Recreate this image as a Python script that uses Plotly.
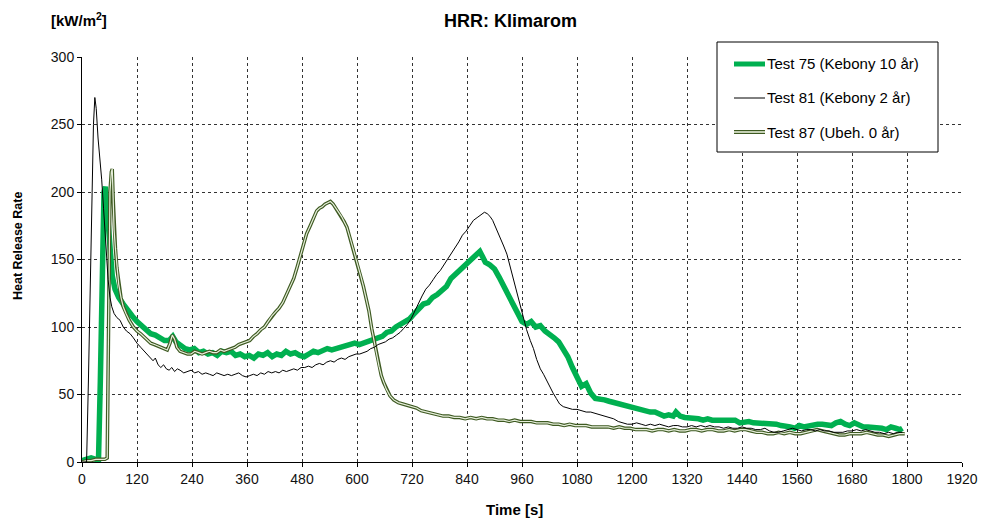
import plotly.graph_objects as go

# ---------------- data ----------------
t75 = [0, 10, 20, 30, 36, 40, 44, 48, 51, 54, 58, 62, 66, 72, 80, 90, 100, 110, 120, 130, 140, 150, 160, 170, 180, 190, 198, 205, 215, 225, 235, 245, 255, 265, 275, 285, 295, 305, 315, 325, 335, 345, 355, 365, 375, 385, 395, 405, 415, 425, 435, 445, 455, 465, 475, 485, 495, 505, 515, 525, 535, 545, 555, 565, 575, 585, 595, 605, 615, 625, 635, 645, 655, 665, 675, 685, 695, 705, 715, 725, 735, 745, 755, 765, 775, 785, 795, 805, 815, 825, 835, 845, 855, 862, 868, 874, 880, 890, 900, 910, 920, 930, 940, 950, 960, 970, 980, 990, 1000, 1010, 1020, 1030, 1040, 1050, 1060, 1070, 1080, 1090, 1100, 1110, 1120, 1130, 1140, 1150, 1160, 1170, 1180, 1190, 1200, 1210, 1220, 1230, 1240, 1250, 1260, 1270, 1280, 1290, 1296, 1305, 1315, 1325, 1335, 1345, 1355, 1365, 1375, 1385, 1395, 1405, 1415, 1425, 1435, 1445, 1455, 1465, 1475, 1485, 1495, 1505, 1515, 1525, 1535, 1545, 1555, 1565, 1575, 1585, 1595, 1605, 1615, 1625, 1635, 1645, 1655, 1665, 1675, 1685, 1695, 1705, 1715, 1725, 1735, 1745, 1755, 1765, 1775, 1785, 1790]
hrr75 = [1, 2, 3, 2, 2, 60, 160, 200, 204, 188, 168, 150, 138, 128, 122, 117, 112, 108, 104, 101, 99, 95, 94, 92, 90, 90, 93, 89, 86, 84, 83, 84, 81, 82, 80, 81, 79, 82, 81, 82, 79, 80, 78, 79, 77, 80, 79, 81, 78, 80, 79, 82, 80, 81, 79, 78, 80, 82, 81, 83, 84, 83, 84, 85, 86, 86, 88, 87, 88, 89, 90, 92, 93, 96, 97, 100, 102, 104, 106, 110, 113, 117, 118, 122, 124, 127, 130, 136, 139, 143, 146, 149, 151, 154, 156, 152, 148, 146, 143, 137, 130, 124, 118, 110, 104, 102, 104, 100, 101, 97, 95, 92, 89, 84, 78, 70, 63, 56, 58, 51, 47, 47, 46, 45, 44, 44, 42, 41, 41, 40, 39, 38, 37, 37, 35, 34, 35, 34, 37, 34, 33, 33, 32, 32, 31, 32, 31, 31, 30, 30, 30, 31, 29, 30, 30, 29, 29, 28, 29, 28, 28, 27, 27, 26, 25, 27, 26, 27, 27, 28, 28, 27, 27, 29, 30, 28, 27, 29, 27, 26, 26, 26, 25, 25, 24, 26, 25, 24, 25]

t81 = [0, 5, 10, 14, 18, 22, 25, 28, 31, 35, 39, 43, 47, 50, 54, 57, 61, 65, 70, 76, 83, 90, 97, 105, 112, 120, 128, 136, 142, 148, 155, 160, 166, 172, 178, 184, 190, 196, 202, 208, 214, 222, 230, 238, 246, 254, 262, 270, 278, 286, 294, 302, 310, 318, 326, 334, 342, 350, 358, 366, 374, 382, 390, 398, 406, 414, 422, 430, 438, 446, 454, 462, 470, 478, 486, 494, 502, 510, 518, 526, 534, 542, 550, 558, 566, 574, 582, 590, 598, 606, 614, 622, 630, 638, 646, 654, 662, 670, 678, 686, 694, 702, 710, 718, 726, 734, 742, 750, 758, 766, 774, 782, 790, 798, 806, 814, 822, 830, 838, 846, 854, 862, 870, 878, 884, 890, 896, 904, 912, 920, 927, 934, 941, 948, 956, 963, 970, 978, 985, 992, 1000, 1007, 1014, 1021, 1028, 1035, 1042, 1050, 1060, 1070, 1080, 1090, 1100, 1110, 1120, 1130, 1140, 1150, 1160, 1170, 1180, 1190, 1200, 1210, 1220, 1230, 1240, 1250, 1260, 1270, 1280, 1290, 1300, 1310, 1320, 1330, 1340, 1350, 1360, 1370, 1380, 1390, 1400, 1410, 1420, 1430, 1440, 1450, 1460, 1470, 1480, 1490, 1500, 1510, 1520, 1530, 1540, 1550, 1560, 1570, 1580, 1590, 1600, 1610, 1620, 1630, 1640, 1650, 1660, 1670, 1680, 1690, 1700, 1710, 1720, 1730, 1740, 1750, 1760, 1770, 1780, 1790]
hrr81 = [0, 0, 0, 60, 140, 210, 250, 270, 262, 240, 225, 209, 188, 172, 150, 135, 122, 115, 110, 107, 105, 100, 97, 95, 92, 88, 85, 82, 80, 78, 75, 77, 72, 70, 72, 69, 68, 70, 67, 69, 68, 66, 67, 68, 66, 67, 65, 66, 65, 64, 66, 65, 64, 65, 64, 65, 66, 64, 63, 64, 65, 64, 66, 65, 67, 66, 67, 66, 68, 67, 68, 69, 68, 70, 70, 71, 70, 72, 73, 72, 74, 75, 74, 76, 77, 76, 78, 79, 80, 80, 81, 82, 84, 85, 87, 88, 89, 91, 92, 94, 96, 99, 102, 106, 112, 118, 123, 128, 131, 135, 139, 142, 146, 150, 154, 158, 163, 168, 171, 175, 179, 181, 183, 185, 184, 182, 179, 173, 167, 160, 154, 145, 135, 125, 115, 106, 98, 90, 84, 76, 69, 65, 60, 55, 51, 47, 43, 41, 40, 39, 39, 38, 37, 37, 36, 35, 34, 33, 32, 30, 29, 28, 28, 29, 28, 27, 28, 27, 28, 27, 26, 27, 27, 26, 26, 27, 26, 27, 26, 27, 26, 26, 25, 26, 25, 25, 26, 25, 25, 24, 24, 25, 23, 22, 22, 23, 24, 25, 24, 23, 24, 24, 23, 24, 23, 23, 22, 22, 22, 23, 23, 24, 23, 24, 23, 22, 22, 21, 22, 21, 22, 22]

t87 = [0, 10, 20, 30, 40, 50, 55, 58, 61, 64, 66, 68, 70, 73, 76, 80, 85, 90, 96, 103, 112, 120, 128, 134, 142, 150, 158, 165, 172, 180, 186, 192, 197, 202, 207, 214, 222, 230, 238, 246, 254, 262, 270, 278, 286, 294, 302, 310, 318, 326, 334, 342, 350, 358, 366, 374, 382, 390, 398, 406, 414, 422, 430, 438, 446, 454, 462, 470, 476, 482, 490, 498, 506, 512, 518, 524, 530, 536, 542, 548, 554, 560, 566, 572, 578, 584, 590, 596, 602, 608, 614, 620, 626, 632, 638, 643, 648, 653, 658, 664, 672, 680, 690, 700, 710, 720, 730, 740, 752, 764, 776, 788, 800, 812, 824, 836, 848, 860, 872, 884, 896, 908, 920, 932, 944, 956, 968, 980, 992, 1004, 1016, 1028, 1040, 1052, 1064, 1076, 1088, 1100, 1112, 1124, 1136, 1148, 1160, 1172, 1184, 1196, 1208, 1220, 1232, 1244, 1256, 1268, 1280, 1292, 1304, 1316, 1328, 1340, 1352, 1364, 1376, 1388, 1400, 1412, 1424, 1436, 1448, 1460, 1472, 1484, 1496, 1508, 1520, 1532, 1544, 1556, 1568, 1580, 1592, 1604, 1616, 1628, 1640, 1652, 1664, 1676, 1688, 1700, 1712, 1724, 1736, 1748, 1760, 1772, 1784, 1795]
hrr87 = [0, 1, 1, 2, 2, 2, 3, 120, 200, 215, 217, 195, 172, 158, 144, 132, 122, 115, 110, 105, 100, 97, 95, 93, 90, 88, 87, 86, 85, 84, 83, 88, 94, 91, 85, 82, 81, 80, 80, 82, 81, 80, 81, 82, 81, 81, 83, 82, 83, 84, 85, 87, 88, 89, 90, 93, 95, 98, 100, 104, 108, 111, 114, 118, 124, 130, 136, 145, 152, 160, 169, 175, 182, 186, 188, 189, 191, 192, 193, 191, 188, 185, 182, 178, 174, 167, 160, 152, 145, 138, 130, 121, 112, 99, 88, 80, 71, 64, 59, 54, 49, 46, 44, 43, 42, 41, 40, 38, 37, 36, 35, 34, 34, 33, 33, 32, 33, 32, 33, 32, 32, 31, 31, 30, 31, 30, 30, 30, 29, 29, 29, 28, 28, 27, 28, 27, 27, 27, 26, 26, 26, 26, 25, 26, 25, 25, 24, 24, 24, 23, 24, 24, 23, 24, 23, 23, 24, 24, 23, 24, 24, 23, 23, 24, 23, 24, 24, 23, 22, 22, 21, 21, 22, 21, 22, 21, 21, 22, 23, 24, 23, 22, 21, 20, 20, 21, 21, 21, 22, 21, 20, 20, 19, 20, 21, 21]

series_names = ["Test 75 (Kebony 10 år)", "Test 81 (Kebony 2 år)", "Test 87 (Ubeh. 0 år)"]
x_ticks = list(range(0, 1921, 120))
y_ticks = list(range(0, 301, 50))

# ---------------- styles ----------------
GREEN = "#00B050"
OLIVE_DARK = "#3E5A22"
OLIVE_LIGHT = "#E6EEDA"
FONT = "Liberation Sans, Arial, sans-serif"

L, R, T, B = 82, 20, 57, 60
W, H = 982, 522
PW, PH = float(W - L - R), float(H - T - B)

fig = go.Figure()
fig.add_trace(go.Scatter(x=t75, y=hrr75, mode="lines", name=series_names[0],
                         line=dict(color=GREEN, width=5.5), showlegend=False))
fig.add_trace(go.Scatter(x=t87, y=hrr87, mode="lines", name=series_names[2],
                         line=dict(color=OLIVE_DARK, width=3.5), showlegend=False))
fig.add_trace(go.Scatter(x=t87, y=hrr87, mode="lines", name=series_names[2],
                         line=dict(color=OLIVE_LIGHT, width=1.2), showlegend=False))
fig.add_trace(go.Scatter(x=t81, y=hrr81, mode="lines", name=series_names[1],
                         line=dict(color="#000000", width=1), showlegend=False))

axis_common = dict(
    showgrid=True, gridcolor="#333333", griddash="dot", gridwidth=1,
    showline=True, linecolor="#000000", linewidth=1,
    ticks="outside", ticklen=4, tickcolor="#000000",
    tickfont=dict(family=FONT, size=14, color="#111111"),
    zeroline=False, automargin=False,
)

fig.update_xaxes(range=[0, 1920], tickvals=x_ticks, **axis_common)
fig.update_yaxes(range=[0, 300], tickvals=y_ticks, **axis_common)

# ---------------- manual legend ----------------
def px(xp):
    return (xp - L) / PW
def py(yp):
    return (H - B - yp) / PH

shapes = [dict(type="rect", xref="paper", yref="paper",
               x0=px(717), x1=px(938), y0=py(152), y1=py(42),
               line=dict(color="#000000", width=1), fillcolor="white", layer="above")]
ys = [64, 98, 132]
styles = [[dict(color=GREEN, width=5)],
          [dict(color="#000000", width=1)],
          [dict(color=OLIVE_DARK, width=4), dict(color=OLIVE_LIGHT, width=1.6)]]
for yy, sty in zip(ys, styles):
    for s in sty:
        shapes.append(dict(type="line", xref="paper", yref="paper",
                           x0=px(734), x1=px(765), y0=py(yy), y1=py(yy),
                           line=s, layer="above"))

annotations = []
for yy, name in zip(ys, series_names):
    annotations.append(dict(text=name, xref="paper", yref="paper",
                            x=px(765), y=py(yy), xanchor="left", yanchor="middle",
                            showarrow=False, font=dict(family=FONT, size=15, color="#000000")))

annotations += [
    dict(text="<b>HRR: Klimarom</b>", xref="paper", yref="paper",
         x=px(510), y=py(21), xanchor="center", yanchor="middle", showarrow=False,
         font=dict(family=FONT, size=18, color="#000000")),
    dict(text="<b>[kW/m<sup>2</sup>]</b>", xref="paper", yref="paper",
         x=px(79), y=py(20), xanchor="center", yanchor="middle", showarrow=False,
         font=dict(family=FONT, size=15, color="#000000")),
    dict(text="<b>Heat Release Rate</b>", xref="paper", yref="paper",
         x=px(18), y=py(246), xanchor="center", yanchor="middle", showarrow=False,
         textangle=-90, font=dict(family=FONT, size=12.5, color="#000000")),
    dict(text="<b>Time [s]</b>", xref="paper", yref="paper",
         x=px(514), y=py(509), xanchor="center", yanchor="middle", showarrow=False,
         font=dict(family=FONT, size=15, color="#000000")),
]

fig.update_layout(
    width=W, height=H,
    margin=dict(l=L, r=R, t=T, b=B),
    paper_bgcolor="white", plot_bgcolor="white",
    shapes=shapes, annotations=annotations,
    showlegend=False,
    font=dict(family=FONT),
)

fig.write_html("out.html")
